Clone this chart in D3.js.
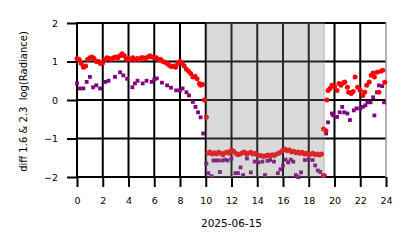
<!DOCTYPE html>
<html>
<head>
<meta charset="utf-8">
<script src="https://cdn.jsdelivr.net/npm/d3@7"></script>
<style>
  body { margin: 0; background: #fff; }
  text { font-family: "DejaVu Sans", sans-serif; fill: #000; }
</style>
</head>
<body>
<svg id="chart"></svg>
<script>
const width = 414;
const height = 248;

// hours of day (UTC) and diff values
const redHours = [
  0, 0.17, 0.33, 0.5, 0.67, 0.83, 1.0, 1.17, 1.33, 1.5, 1.67, 1.83, 2.0, 2.17, 2.33, 2.5, 2.67, 2.83,
  3.0, 3.17, 3.33, 3.5, 3.67, 3.83, 4.0, 4.17, 4.33, 4.5, 4.67, 4.83, 5.0, 5.17, 5.33, 5.5, 5.67, 5.83,
  6.0, 6.17, 6.33, 6.5, 6.67, 6.83, 7.0, 7.17, 7.33, 7.5, 7.67, 7.83, 8.0, 8.17, 8.33, 8.5, 8.67, 8.83,
  9.0, 9.17, 9.33, 9.5, 9.6, 9.75, 9.9, 10.05,
  10.17, 10.33, 10.5, 10.67, 10.83, 11.0, 11.17, 11.33, 11.5, 11.67, 11.83, 12.0, 12.17, 12.33, 12.5,
  12.67, 12.83, 13.0, 13.17, 13.33, 13.5, 13.67, 13.83, 14.0, 14.17, 14.33, 14.5, 14.67, 14.83, 15.0,
  15.17, 15.33, 15.5, 15.67, 15.83, 16.0, 16.17, 16.33, 16.5, 16.67, 16.83, 17.0, 17.17, 17.33, 17.5,
  17.67, 17.83, 18.0, 18.17, 18.33, 18.5, 18.67, 18.83, 19.0, 19.15, 19.2,
  19.33, 19.4, 19.5, 19.65, 19.8, 20.0, 20.2, 20.35, 20.5, 20.7, 20.8, 21.0, 21.1, 21.3, 21.45, 21.6,
  21.8, 22.0, 22.2, 22.35, 22.5, 22.7, 22.85, 23.0, 23.1, 23.3, 23.45, 23.6, 23.75, 23.9
];
const redValues = [
  1.08, 1.05, 0.95, 0.85, 0.88, 1.05, 1.1, 1.12, 1.08, 1.0, 1.0, 0.95, 0.97, 1.05, 1.1, 1.08, 1.05, 1.1,
  1.12, 1.1, 1.15, 1.2, 1.15, 1.05, 1.08, 1.05, 1.1, 1.05, 1.08, 1.05, 1.1, 1.1, 1.08, 1.12, 1.15, 1.12,
  1.1, 1.1, 1.05, 1.05, 1.0, 0.98, 0.95, 0.9, 0.87, 0.88, 0.85, 0.95, 1.0, 0.95, 0.88, 0.8, 0.75, 0.69,
  0.6, 0.62, 0.55, 0.43, 0.38, 0.4, 0.0, -0.45,
  -1.38, -1.35, -1.4, -1.37, -1.4, -1.36, -1.38, -1.42, -1.37, -1.35, -1.38, -1.3, -1.33, -1.38, -1.42,
  -1.4, -1.37, -1.35, -1.4, -1.38, -1.36, -1.4, -1.38, -1.42, -1.45, -1.44, -1.47, -1.45, -1.43, -1.45,
  -1.42, -1.44, -1.4, -1.38, -1.35, -1.3, -1.28, -1.32, -1.3, -1.35, -1.33, -1.37, -1.35, -1.38, -1.36,
  -1.4, -1.38, -1.42, -1.4, -1.38, -1.42, -1.4, -1.43, -1.4, -0.75, -1.96,
  -0.8, 0.0, 0.25, 0.3, 0.38, 0.35, 0.25, 0.43, 0.38, 0.45, 0.47, 0.33, 0.2, 0.17, 0.22, 0.6,
  0.33, 0.25, 0.12, 0.2, 0.38, 0.47, 0.64, 0.7, 0.6, 0.72, 0.2, 0.75, 0.77, 0.46
];

const purpleHours = [
  0, 0.23, 0.5, 0.75, 1.0, 1.25, 1.5, 1.8, 2.2, 2.45, 2.95, 3.35, 3.6, 3.9, 4.3, 4.5, 4.7, 5.1, 5.4,
  5.8, 6.0, 6.2, 6.6, 7.0, 7.3, 7.7, 8.0, 8.2, 8.5, 8.7, 9.0, 9.2, 9.4, 9.6, 9.8,
  10.05, 10.2, 10.45, 10.6, 10.8, 11.0, 11.1, 11.3, 11.5, 11.7, 12.0, 12.3, 12.5, 12.7, 12.9, 13.2,
  13.5, 13.8, 14.1, 14.4, 14.6, 14.8, 15.0, 15.3, 15.6, 15.8, 16.0, 16.2, 16.4, 16.6, 16.8, 17.0,
  17.2, 17.4, 17.7, 18.0, 18.3, 18.5, 18.7, 18.9, 19.1,
  19.35, 19.5, 19.8, 19.9, 20.2, 20.4, 20.6, 20.75, 21.0, 21.2, 21.5, 21.7, 22.0, 22.2, 22.4, 22.55,
  22.8, 23.0, 23.1, 23.3, 23.45, 23.7, 23.85
];
const purpleValues = [
  0.43, 0.3, 0.3, 0.47, 0.6, 0.33, 0.38, 0.3, 0.47, 0.5, 0.6, 0.72, 0.64, 0.55, 0.33, 0.43, 0.5, 0.43, 0.5,
  0.47, 0.53, 0.56, 0.45, 0.38, 0.32, 0.25, 0.25, 0.3, 0.2, 0.12, -0.05, -0.18, -0.32, -0.45, -0.87,
  -1.65, -1.9, -1.98, -1.57, -1.57, -1.57, -1.87, -1.57, -1.55, -1.57, -1.52, -1.9, -1.9, -1.75, -1.95, -1.52,
  -1.88, -1.6, -1.62, -1.6, -1.95, -1.58, -1.56, -1.6, -1.9, -1.8, -1.7, -1.55, -1.62, -1.55, -1.6, -1.95,
  -2.0, -1.88, -1.56, -1.55, -1.56, -1.7, -1.83, -1.87, -1.97,
  -0.87, -0.58, -0.35, -0.4, -0.44, -0.32, -0.18, -0.32, -0.35, -0.52, -0.27, -0.22, -0.22, -0.18, -0.14, -0.06,
  -0.06, 0.07, -0.4, 0.2, 0.38, 0.36, -0.06
];

const shadeSpan = [10.07, 19.2];
const xTicks = d3.range(0, 25, 2);
const yTicks = [-2, -1, 0, 1, 2];
const dateLabel = '2025-06-15';
const yLabel = 'diff 1.6 & 2.3  log(Radiance)';

const svg = d3.select('#chart')
    .attr('width', width)
    .attr('height', height);

const x = d3.scaleLinear().domain([0, 24]).range([77, 386]);
const y = d3.scaleLinear().domain([-2, 2]).range([177, 23]);

// grid
const grid_g = svg.append('g').attr('id', 'grid_g');
grid_g.selectAll('line.vx')
    .data(xTicks.filter(d => d < 24))
    .enter().append('line')
    .attr('x1', d => x(d)).attr('x2', d => x(d))
    .attr('y1', y(2)).attr('y2', y(-2))
    .attr('stroke', '#000').attr('stroke-width', 2);
grid_g.selectAll('line.hy')
    .data(yTicks)
    .enter().append('line')
    .attr('x1', x(0) - 1).attr('x2', x(24))
    .attr('y1', d => y(d)).attr('y2', d => y(d))
    .attr('stroke', '#000').attr('stroke-width', 2);
grid_g.append('line')
    .attr('x1', x(24)).attr('x2', x(24))
    .attr('y1', y(2) - 1).attr('y2', y(-2) + 1)
    .attr('stroke', '#999').attr('stroke-width', 1.5);

// axes
const xAxis = svg.append('g')
    .attr('transform', `translate(0, ${y(-2)})`)
    .call(d3.axisBottom(x).tickValues(xTicks).tickSize(10).tickPadding(10));
const yAxis = svg.append('g')
    .attr('transform', `translate(${x(0)}, 0)`)
    .call(d3.axisLeft(y).tickValues(yTicks).tickSize(10).tickPadding(9)
        .tickFormat(d => d3.format('d')(d).replace('-', '\u2212')));
for (const ax of [xAxis, yAxis]) {
    ax.select('.domain').remove();
    ax.selectAll('.tick line').attr('stroke', '#000').attr('stroke-width', 2);
    ax.selectAll('.tick text')
        .style('font-family', '"DejaVu Sans", sans-serif')
        .style('font-size', '9.5px')
        .attr('fill', '#000');
}

// points
const redData = redHours.map((h, i) => ({ h: h, v: redValues[i] }));
const purpleData = purpleHours.map((h, i) => ({ h: h, v: purpleValues[i] }));

svg.append('g')
    .selectAll('rect')
    .data(purpleData)
    .enter().append('rect')
    .attr('x', d => x(d.h) - 1.9)
    .attr('y', d => y(d.v) - 1.9)
    .attr('width', 3.8)
    .attr('height', 3.8)
    .attr('fill', 'purple');

svg.append('g')
    .selectAll('circle')
    .data(redData)
    .enter().append('circle')
    .attr('cx', d => x(d.h))
    .attr('cy', d => y(d.v))
    .attr('r', 2.5)
    .attr('fill', 'red');

// shaded span on top, like a translucent axvspan
svg.append('rect')
    .attr('x', x(shadeSpan[0]))
    .attr('y', y(2))
    .attr('width', x(shadeSpan[1]) - x(shadeSpan[0]))
    .attr('height', y(-2) - y(2))
    .attr('fill', 'grey')
    .attr('fill-opacity', 0.3)
    .attr('stroke', 'grey')
    .attr('stroke-opacity', 0.3)
    .attr('stroke-width', 1.5);

// labels
svg.append('text')
    .attr('x', (x(0) + x(24)) / 2)
    .attr('y', 227)
    .attr('text-anchor', 'middle')
    .style('font-size', '10.5px')
    .text(dateLabel);

svg.append('text')
    .attr('transform', `translate(27, 101.5) rotate(-90)`)
    .attr('text-anchor', 'middle')
    .style('font-size', '10px')
    .style('white-space', 'pre')
    .text(yLabel);
</script>
</body>
</html>
